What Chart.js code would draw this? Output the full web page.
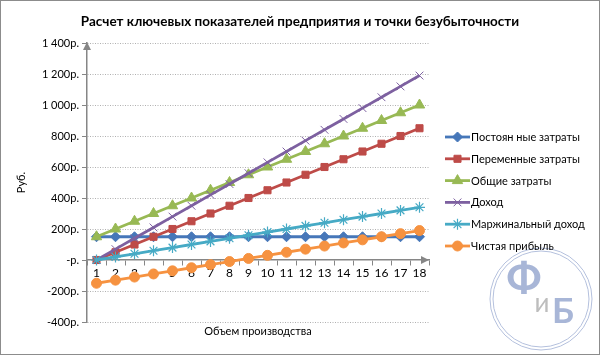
<!DOCTYPE html>
<html>
<head>
<meta charset="utf-8">
<script src="https://cdn.jsdelivr.net/npm/chart.js@4/dist/chart.umd.min.js"></script>
<style>
  html, body { margin: 0; padding: 0; background: #fff; }
  #wrap { width: 600px; height: 355px; position: relative; }
</style>
</head>
<body>
<div id="wrap"><canvas id="c" width="600" height="355"></canvas></div>
<script>
const categories = ['1','2','3','4','5','6','7','8','9','10','11','12','13','14','15','16','17','18'];
const fixedCosts = [150,150,150,150,150,150,150,150,150,150,150,150,150,150,150,150,150,150];
const variableCosts = [0,50,100,150,200,250,300,350,400,450,500,550,600,650,700,750,800,850];
const totalCosts = [150,200,250,300,350,400,450,500,550,600,650,700,750,800,850,900,950,1000];
const revenue = [0,70,140,210,280,350,420,490,560,630,700,770,840,910,980,1050,1120,1190];
const marginalIncome = [0,20,40,60,80,100,120,140,160,180,200,220,240,260,280,300,320,340];
const netProfit = [-150,-130,-110,-90,-70,-50,-30,-10,10,30,50,70,90,110,130,150,170,190];
const seriesNames = ['Постоян ные затраты','Переменные затраты','Общие затраты','Доход','Маржинальный доход','Чистая прибыль'];
const yTicksMin = -400, yTicksMax = 1400, yStep = 200;

const FONT = 'Lato, "Open Sans", sans-serif';
const colors = ['#4677B9','#BE4B48','#98B954','#7D60A0','#46AAC5','#F69240'];
const styles = [
  {pointStyle:'rectRot', radius:5, bw:1},
  {pointStyle:'rect', radius:5, bw:1},
  {pointStyle:'triangle', radius:6, bw:1},
  {pointStyle:'crossRot', radius:5.5, bw:1},
  {pointStyle:'star', radius:5.5, bw:1.2},
  {pointStyle:'circle', radius:5, bw:1}
];
const seriesData = [fixedCosts, variableCosts, totalCosts, revenue, marginalIncome, netProfit];

const datasets = seriesData.map((d, i) => ({
  label: seriesNames[i],
  data: d,
  borderColor: colors[i],
  backgroundColor: colors[i],
  borderWidth: 2.8,
  pointStyle: styles[i].pointStyle,
  pointRadius: styles[i].radius,
  pointBorderWidth: styles[i].bw,
  pointBorderColor: colors[i],
  pointBackgroundColor: colors[i],
  tension: 0,
  order: 5 - i
}));

function fmtRub(v) {
  if (v === 0) return '-р.';
  const s = String(Math.abs(v)).replace(/\B(?=(\d{3})+(?!\d))/g, ' ');
  return (v < 0 ? '-' : '') + s + 'р.';
}

const AXIS_GRAY = '#868686';

const extras = {
  id: 'extras',
  beforeDraw(chart) {
    const ctx = chart.ctx;
    ctx.save();
    const cx = 541, cy = 299;
    ctx.strokeStyle = '#B4C0DD';
    ctx.lineWidth = 1;
    ctx.beginPath(); ctx.arc(cx, cy, 51, 0, Math.PI*2); ctx.stroke();
    ctx.beginPath(); ctx.arc(cx, cy, 48, 0, Math.PI*2); ctx.stroke();
    ctx.textBaseline = 'alphabetic';
    ctx.textAlign = 'center';
    ctx.fillStyle = '#A8B6D7';
    ctx.font = 'bold 44px ' + FONT;
    ctx.fillText('Ф', 524, 294);
    ctx.fillStyle = '#BDBDBD';
    ctx.font = '26px ' + FONT;
    ctx.fillText('и', 542, 312);
    ctx.fillStyle = '#A8B6D7';
    ctx.font = 'bold 35px ' + FONT;
    ctx.fillText('Б', 563, 323);
    ctx.restore();
  },
  afterDraw(chart) {
    const ctx = chart.ctx;
    const ca = chart.chartArea;
    const yScale = chart.scales.y;
    const zeroY = yScale.getPixelForValue(0);
    ctx.save();
    ctx.fillStyle = '#000';
    ctx.textAlign = 'center';
    ctx.textBaseline = 'middle';
    ctx.font = 'bold 13.5px ' + FONT;
    ctx.fillText('Расчет ключевых показателей предприятия и точки безубыточности', 300, 22);
    ctx.font = '11px ' + FONT;
    ctx.fillText('Объем производства', (ca.left + ca.right) / 2, 331);
    ctx.fillStyle = AXIS_GRAY;
    ctx.beginPath();
    ctx.moveTo(ca.left, ca.top - 1);
    ctx.lineTo(ca.left - 4, ca.top + 7);
    ctx.lineTo(ca.left + 4, ca.top + 7);
    ctx.closePath(); ctx.fill();
    ctx.beginPath();
    ctx.moveTo(ca.right, zeroY);
    ctx.lineTo(ca.right - 8, zeroY - 4);
    ctx.lineTo(ca.right - 8, zeroY + 4);
    ctx.closePath(); ctx.fill();
    ctx.font = '11px ' + FONT;
    ctx.textAlign = 'left';
    ctx.textBaseline = 'middle';
    for (let i = 0; i < seriesNames.length; i++) {
      const y = 137 + i * 21.8;
      ctx.strokeStyle = colors[i];
      ctx.lineWidth = 2.8;
      ctx.beginPath(); ctx.moveTo(445, y); ctx.lineTo(470, y); ctx.stroke();
      ctx.fillStyle = colors[i];
      ctx.strokeStyle = colors[i];
      ctx.lineWidth = styles[i].bw;
      if (Chart.helpers && Chart.helpers.drawPoint) {
        Chart.helpers.drawPoint(ctx, {pointStyle: styles[i].pointStyle, radius: styles[i].radius, rotation: 0, borderWidth: styles[i].bw}, 457.5, y);
      }
      ctx.fillStyle = '#000';
      ctx.fillText(seriesNames[i], 471, y + 0.5);
    }
    ctx.strokeStyle = '#8C8C8C';
    ctx.lineWidth = 1;
    ctx.strokeRect(0.5, 0.5, 599, 354);
    ctx.restore();
  }
};

new Chart(document.getElementById('c'), {
  type: 'line',
  data: { labels: categories, datasets: datasets },
  options: {
    responsive: false,
    animation: false,
    events: [],
    layout: { padding: { top: 43, right: 171, bottom: 33, left: 0 } },
    plugins: { legend: { display: false }, title: { display: false }, tooltip: { enabled: false } },
    scales: {
      x: {
        type: 'category',
        position: { y: 0 },
        offset: true,
        grid: { drawOnChartArea: false, drawTicks: true, tickLength: 5, offset: true, color: AXIS_GRAY, lineWidth: 1 },
        border: { display: true, color: AXIS_GRAY, width: 1.5 },
        ticks: { color: '#000', font: { family: FONT, size: 12 }, padding: 1, maxRotation: 0, autoSkip: false }
      },
      y: {
        min: yTicksMin, max: yTicksMax,
        afterFit(scale) { scale.width = 87; },
        title: { display: true, text: 'Руб.', color: '#000', font: { family: FONT, size: 11 }, padding: { top: 15, bottom: 0 } },
        grid: {
          color: (c) => (c.tick && c.tick.value === 0) ? 'rgba(0,0,0,0)' : '#B0B0B0',
          tickColor: AXIS_GRAY,
          lineWidth: 1, drawTicks: true, tickLength: 5
        },
        border: { display: true, color: AXIS_GRAY, width: 1.5, dash: [1, 1.5] },
        ticks: { stepSize: yStep, color: '#000', font: { family: FONT, size: 11 }, padding: 3, callback: (v) => fmtRub(v) }
      }
    }
  },
  plugins: [extras]
});
</script>
</body>
</html>
